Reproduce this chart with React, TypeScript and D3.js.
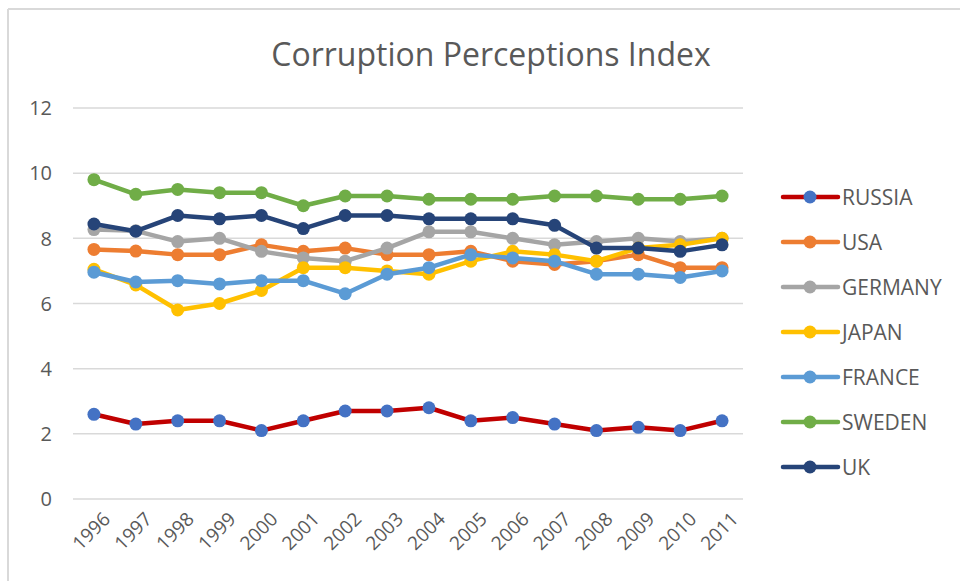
import React from 'react';
import * as d3 from 'd3';

// years on the category axis
const years = ['1996', '1997', '1998', '1999', '2000', '2001', '2002', '2003',
  '2004', '2005', '2006', '2007', '2008', '2009', '2010', '2011'];

const russia = [2.6, 2.3, 2.4, 2.4, 2.1, 2.4, 2.7, 2.7, 2.8, 2.4, 2.5, 2.3, 2.1, 2.2, 2.1, 2.4];
const usa = [7.66, 7.61, 7.5, 7.5, 7.8, 7.6, 7.7, 7.5, 7.5, 7.6, 7.3, 7.2, 7.3, 7.5, 7.1, 7.1];
const germany = [8.27, 8.23, 7.9, 8.0, 7.6, 7.4, 7.3, 7.7, 8.2, 8.2, 8.0, 7.8, 7.9, 8.0, 7.9, 8.0];
const japan = [7.05, 6.57, 5.8, 6.0, 6.4, 7.1, 7.1, 7.0, 6.9, 7.3, 7.6, 7.5, 7.3, 7.7, 7.8, 8.0];
const france = [6.96, 6.66, 6.7, 6.6, 6.7, 6.7, 6.3, 6.9, 7.1, 7.5, 7.4, 7.3, 6.9, 6.9, 6.8, 7.0];
const sweden = [9.8, 9.35, 9.5, 9.4, 9.4, 9.0, 9.3, 9.3, 9.2, 9.2, 9.2, 9.3, 9.3, 9.2, 9.2, 9.3];
const uk = [8.44, 8.22, 8.7, 8.6, 8.7, 8.3, 8.7, 8.7, 8.6, 8.6, 8.6, 8.4, 7.7, 7.7, 7.6, 7.8];

const yTicks = [0, 2, 4, 6, 8, 10, 12];

const series = [
  { name: 'RUSSIA', values: russia, line: '#C00000', marker: '#4472C4' },
  { name: 'USA', values: usa, line: '#ED7D31', marker: '#ED7D31' },
  { name: 'GERMANY', values: germany, line: '#A5A5A5', marker: '#A5A5A5' },
  { name: 'JAPAN', values: japan, line: '#FFC000', marker: '#FFC000' },
  { name: 'FRANCE', values: france, line: '#5B9BD5', marker: '#5B9BD5' },
  { name: 'SWEDEN', values: sweden, line: '#70AD47', marker: '#70AD47' },
  { name: 'UK', values: uk, line: '#264478', marker: '#264478' },
];

const FONT = "'Open Sans', 'Noto Sans', sans-serif";
const TEXT = '#595959';

export default function App() {
  const width = 960;
  const height = 581;

  const x = d3.scaleBand<string>().domain(years).range([73, 743]);
  const y = d3.scaleLinear().domain([0, 12]).range([499, 108]);
  const cx = (yr: string) => (x(yr) ?? 0) + x.bandwidth() / 2;

  const line = d3
    .line<number>()
    .x((_, i) => cx(years[i]))
    .y((d) => y(d));

  return (
    <svg
      width={width}
      height={height}
      style={{ position: 'absolute', left: 0, top: 0, background: '#fff' }}
      fontFamily={FONT}
    >
      {/* chart border */}
      <line x1={8} x2={width} y1={9} y2={9} stroke="#D9D9D9" strokeWidth={2} />
      <line x1={8} x2={8} y1={9} y2={height} stroke="#D9D9D9" strokeWidth={2} />

      <text x={491} y={66} textAnchor="middle" fontSize={32} fill={TEXT}>
        Corruption Perceptions Index
      </text>

      {/* gridlines + y labels */}
      {yTicks.map((t) => (
        <g key={t}>
          <line x1={73} x2={743} y1={y(t)} y2={y(t)} stroke="#D9D9D9" strokeWidth={1.5} />
          <text x={52} y={y(t)} dy="0.36em" textAnchor="end" fontSize={20} fill={TEXT}>
            {t}
          </text>
        </g>
      ))}

      {/* x labels */}
      {years.map((yr) => (
        <text
          key={yr}
          transform={`translate(${cx(yr) + 8},${511}) rotate(-45)`}
          textAnchor="end"
          dy="0.7em"
          fontSize={19}
          fill={TEXT}
        >
          {yr}
        </text>
      ))}

      {/* series */}
      {series.map((s) => (
        <g key={s.name}>
          <path
            d={line(s.values) ?? ''}
            fill="none"
            stroke={s.line}
            strokeWidth={4.5}
            strokeLinejoin="round"
            strokeLinecap="round"
          />
          {s.values.map((v, i) => (
            <circle key={i} cx={cx(years[i])} cy={y(v)} r={6.5} fill={s.marker} />
          ))}
        </g>
      ))}

      {/* legend */}
      {series.map((s, i) => {
        const ly = 197 + i * 45;
        return (
          <g key={s.name}>
            <line x1={783} x2={838} y1={ly} y2={ly} stroke={s.line} strokeWidth={4.5} strokeLinecap="round" />
            <circle cx={810} cy={ly} r={6.5} fill={s.marker} />
            <text x={842} y={ly} dy="0.36em" fontSize={21} fill={TEXT}>
              {s.name}
            </text>
          </g>
        );
      })}
    </svg>
  );
}
